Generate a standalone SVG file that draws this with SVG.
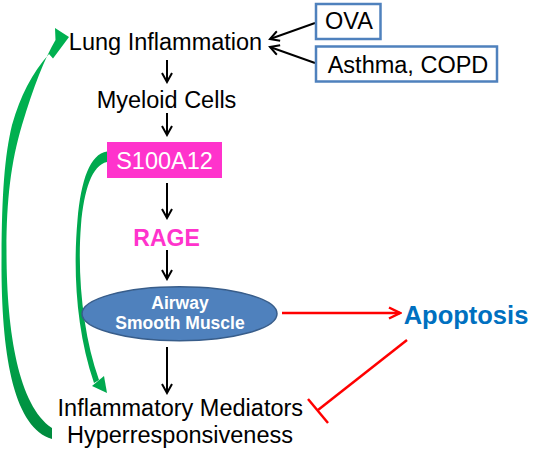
<svg xmlns="http://www.w3.org/2000/svg" width="547" height="454" viewBox="0 0 547 454">
<style>
text{font-family:"Liberation Sans",Arial,sans-serif;text-anchor:middle}
.t{font-size:23.5px;fill:#000}
.b{font-weight:bold}
.blk{stroke:#000;stroke-width:2;fill:none}
.red{stroke:#FF0000;stroke-width:2.5;fill:none}
.box{fill:#fff;stroke:#4F81BD;stroke-width:2.5}
</style>
<defs>
<marker id="ah" markerWidth="12" markerHeight="12" refX="10" refY="6" orient="auto" markerUnits="userSpaceOnUse">
<path d="M1,1 L10,6 L1,11" fill="none" stroke="#000" stroke-width="2"/>
</marker>
<marker id="ahr" markerWidth="14" markerHeight="14" refX="12" refY="7" orient="auto" markerUnits="userSpaceOnUse">
<path d="M1,1.5 L12,7 L1,12.5" fill="none" stroke="#FF0000" stroke-width="2.5"/>
</marker>
<linearGradient id="gg" gradientUnits="userSpaceOnUse" x1="0" y1="300" x2="0" y2="440">
<stop offset="0" stop-color="#00B050"/>
<stop offset="1" stop-color="#008A3E"/>
</linearGradient>
</defs>

<g id="connectors">
<line class="blk" x1="167" y1="60" x2="167" y2="82" marker-end="url(#ah)"/>
<line class="blk" x1="167" y1="113" x2="167" y2="135" marker-end="url(#ah)"/>
<line class="blk" x1="167" y1="183" x2="167" y2="218" marker-end="url(#ah)"/>
<line class="blk" x1="167" y1="250" x2="167" y2="279" marker-end="url(#ah)"/>
<line class="blk" x1="167" y1="347" x2="167" y2="393" marker-end="url(#ah)"/>
<line class="blk" x1="315" y1="23" x2="270" y2="39" marker-end="url(#ah)"/>
<line class="blk" x1="315" y1="63" x2="270" y2="47" marker-end="url(#ah)"/>
<line class="red" x1="282" y1="313" x2="400" y2="313" marker-end="url(#ahr)"/>
<line class="red" x1="407" y1="340" x2="318" y2="410"/>
<line class="red" x1="308" y1="399" x2="328" y2="423"/>
<path id="green-outer" fill="url(#gg)" d="M69,37 L55,28 L55.5,40 Q39,68 22,125 C11,162 6.5,200 6.5,250 C6.5,330 18,405 52,428 L52,439 C15,428 2,360 1.5,270 C1.5,200 4,158 12,125 Q24,82 49,54 L53,58.5 Z"/>
<path id="green-inner" fill="#00A94F" d="M107,151.5 C90,154 81,180 77.5,220 C73,270 76,330 94,383 L99,380 C83,335 77,275 81,225 C84,190 92,165 107,162 Z"/>
<path fill="#00A94F" d="M92,386 L104,376 L107,393 Z"/>
</g>

<g id="lung">
<text class="t" x="165.5" y="49.5">Lung Inflammation</text>
</g>
<g id="ova">
<rect class="box" x="316" y="4" width="64.5" height="35"/>
<text class="t" x="349" y="29">OVA</text>
</g>
<g id="asthma">
<rect class="box" x="316" y="46.5" width="181" height="35"/>
<text class="t" x="408" y="72.5">Asthma, COPD</text>
</g>
<g id="myeloid">
<text class="t" x="166.5" y="108">Myeloid Cells</text>
</g>
<g id="s100a12">
<rect x="107" y="142" width="115" height="36" fill="#FF33CC"/>
<text class="t" x="164.5" y="168.5" style="fill:#fff">S100A12</text>
</g>
<g id="rage">
<text class="b" x="166.5" y="246" style="font-size:23px;fill:#FF33CC">RAGE</text>
</g>
<g id="asm">
<ellipse cx="179.5" cy="313.7" rx="97.5" ry="27" fill="#4F81BD" stroke="#385D8A" stroke-width="1.5"/>
<text class="b" x="180" y="308.5" style="font-size:17.5px;fill:#fff">Airway</text>
<text class="b" x="180" y="329" style="font-size:17.5px;fill:#fff">Smooth Muscle</text>
</g>
<g id="apoptosis">
<text class="b" x="466" y="324" style="font-size:25.5px;fill:#0070C0">Apoptosis</text>
</g>
<g id="mediators">
<text class="t" x="180.3" y="415.5">Inflammatory Mediators</text>
<text class="t" x="180" y="443">Hyperresponsiveness</text>
</g>
</svg>
